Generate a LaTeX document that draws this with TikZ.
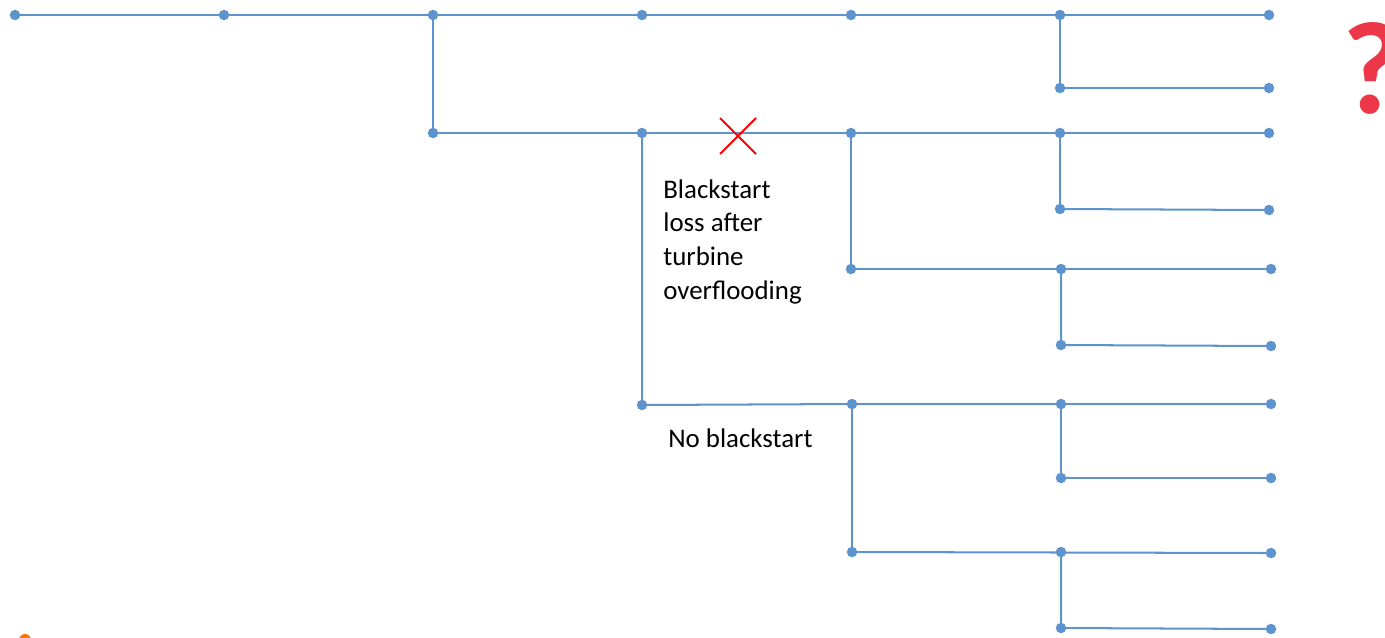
\documentclass[tikz,border=0pt]{standalone}
\usepackage{fontspec}
\setmainfont{Carlito}
\definecolor{linkblue}{RGB}{94,148,205}
\definecolor{qred}{RGB}{235,55,72}

\begin{document}
\begin{tikzpicture}[x=0.02cm,y=-0.02cm,
    dot/.style={circle,fill=linkblue,inner sep=0pt,minimum size=0.21cm},
    link/.style={draw=linkblue,line width=1.15pt},
    lbl/.style={font=\fontsize{15.3}{19.2}\selectfont,align=left,inner sep=0pt}]
        % Frame of the picture
        \useasboundingbox (0,0) rectangle (1385,637);

        % Top line
        \foreach \i/\x in {1/15,2/224,3/433,4/642,5/851,6/1060,7/1269}
            \node[dot] (t\i) at (\x,15) {};
        \node[dot] (t8) at (1060,88) {};
        \node[dot] (t9) at (1269,88) {};

        % Second line
        \node[dot] (m1) at (433,133) {};
        \node[dot] (m2) at (642,133) {};
        \node[dot] (m3) at (851,133) {};
        \node[dot] (m4) at (1060,133) {};
        \node[dot] (m5) at (1269,133) {};
        \node[dot] (m6) at (1060,209) {};
        \node[dot] (m7) at (1269,210) {};
        \node[dot] (m8) at (851,269) {};
        \node[dot] (m9) at (1061,269) {};
        \node[dot] (m10) at (1271,269) {};
        \node[dot] (m11) at (1061,345) {};
        \node[dot] (m12) at (1271,346) {};

        % Third line
        \node[dot] (b1) at (642,405) {};
        \node[dot] (b2) at (852,404) {};
        \node[dot] (b3) at (1061,404) {};
        \node[dot] (b4) at (1271,404) {};
        \node[dot] (b5) at (1061,478) {};
        \node[dot] (b6) at (1271,478) {};
        \node[dot] (b7) at (852,552) {};
        \node[dot] (b8) at (1061,552) {};
        \node[dot] (b9) at (1271,553) {};
        \node[dot] (b10) at (1061,628) {};
        \node[dot] (b11) at (1271,629) {};

        % Draw the branches
        \draw[link] (t1.center) -- (t7.center);
        \draw[link] (t6.center) -- (t8.center) -- (t9.center);
        \draw[link] (t3.center) -- (m1.center) -- (m5.center);
        \draw[link] (m4.center) -- (m6.center) -- (m7.center);
        \draw[link] (m3.center) -- (m8.center) -- (m10.center);
        \draw[link] (m9.center) -- (m11.center) -- (m12.center);
        \draw[link] (m2.center) -- (b1.center) -- (b2.center) -- (b4.center);
        \draw[link] (b3.center) -- (b5.center) -- (b6.center);
        \draw[link] (b2.center) -- (b7.center) -- (b9.center);
        \draw[link] (b8.center) -- (b10.center) -- (b11.center);

        % Cross on the broken link
        \coordinate (cut) at (738,136);
        \draw[red,line width=1.1pt] ([shift={(-18,-18)}]cut) -- ([shift={(18,18)}]cut);
        \draw[red,line width=1.1pt] ([shift={(18,-18)}]cut) -- ([shift={(-18,18)}]cut);

        % Label the branches
        \node[lbl,anchor=north west] (loss) at (663,179) {Blackstart\\loss after\\turbine\\overflooding};
        \node[lbl,anchor=west] (noblack) at (668,438) {No blackstart};

        % Question mark
        \node[text=qred,font=\fontsize{75}{75}\bfseries\selectfont,inner sep=0pt] (qm) at (1373,68) {?};

        % Corner blob
        \fill[orange!90!red] (25,640) circle (6);
\end{tikzpicture}
\end{document}
